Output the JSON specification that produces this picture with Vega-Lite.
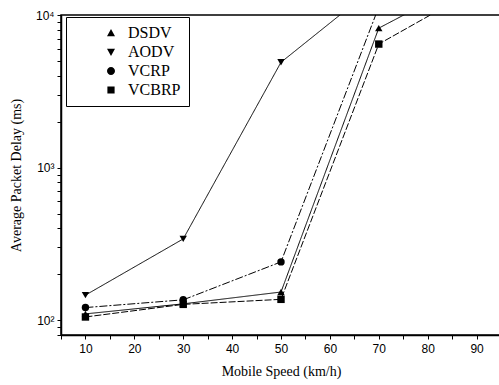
{
  "$schema": "https://vega.github.io/schema/vega-lite/v6.json",
  "width": 440,
  "height": 320,
  "autosize": {"type": "none"},
  "padding": {"left": 61, "top": 15, "right": 0, "bottom": 50},
  "background": "white",
  "config": {
    "view": {"stroke": "black", "strokeWidth": 1.5},
    "axis": {"domainColor": "black", "tickColor": "black", "labelColor": "black", "titleColor": "black", "grid": false, "labelFont": "Liberation Sans", "labelFontSize": 12, "titleFont": "Liberation Serif", "titleFontSize": 14, "titleFontWeight": "normal"}
  },
  "data": {"values": [
    {"speed": 10, "delay": 110, "series": "DSDV"},
    {"speed": 30, "delay": 128, "series": "DSDV"},
    {"speed": 50, "delay": 153, "series": "DSDV"},
    {"speed": 70, "delay": 8200, "series": "DSDV"},
    {"speed": 90, "delay": 17800, "series": "DSDV"},
    {"speed": 10, "delay": 146, "series": "AODV"},
    {"speed": 30, "delay": 341, "series": "AODV"},
    {"speed": 50, "delay": 4900, "series": "AODV"},
    {"speed": 70, "delay": 16000, "series": "AODV"},
    {"speed": 10, "delay": 121, "series": "VCRP"},
    {"speed": 30, "delay": 136, "series": "VCRP"},
    {"speed": 50, "delay": 241, "series": "VCRP"},
    {"speed": 70, "delay": 11300, "series": "VCRP"},
    {"speed": 10, "delay": 105, "series": "VCBRP"},
    {"speed": 30, "delay": 127, "series": "VCBRP"},
    {"speed": 50, "delay": 137, "series": "VCBRP"},
    {"speed": 70, "delay": 6450, "series": "VCBRP"},
    {"speed": 90, "delay": 14800, "series": "VCBRP"}
  ]},
  "encoding": {
    "x": {"field": "speed", "type": "quantitative",
      "scale": {"domain": [5, 95], "nice": false, "zero": false},
      "axis": {"title": "Mobile Speed (km/h)", "values": [5,10,15,20,25,30,35,40,45,50,55,60,65,70,75,80,85,90,95],
        "labelExpr": "datum.value % 10 == 0 ? datum.label : ''", "tickSize": 4, "labelPadding": 4, "titlePadding": 10, "domainWidth": 1.5}},
    "y": {"field": "delay", "type": "quantitative",
      "scale": {"type": "log", "domain": [80, 10000], "nice": false},
      "axis": {"title": "Average Packet Delay (ms)", "values": [80,90,100,200,300,400,500,600,700,800,900,1000,2000,3000,4000,5000,6000,7000,8000,9000,10000],
        "labelExpr": "datum.value == 100 ? '10²' : datum.value == 1000 ? '10³' : datum.value == 10000 ? '10⁴' : ''", "tickSize": 4, "labelPadding": 3, "titlePadding": 12, "domainWidth": 1.5}}
  },
  "layer": [
    {
      "mark": {"type": "line", "color": "black", "strokeWidth": 1, "clip": true},
      "encoding": {
        "detail": {"field": "series"},
        "strokeDash": {"field": "series", "type": "nominal",
          "scale": {"domain": ["AODV", "DSDV", "VCBRP", "VCRP"], "range": [[1,0],[1,0],[7,2],[8,2,2,2]]},
          "legend": null}
      }
    },
    {
      "mark": {"type": "point", "filled": true, "color": "black", "size": 55, "opacity": 1, "clip": true},
      "encoding": {
        "shape": {"field": "series", "type": "nominal",
          "scale": {"domain": ["AODV", "DSDV", "VCBRP", "VCRP"], "range": ["triangle-down", "triangle-up", "square", "circle"]},
          "legend": null}
      }
    },
    {
      "transform": [{"filter": "datum.speed < 0"}],
      "mark": {"type": "point", "filled": false, "fill": "black", "stroke": "black", "fillOpacity": 1, "strokeOpacity": 1, "size": 64, "opacity": 1, "clip": true, "strokeWidth": 1},
      "encoding": {
        "shape": {"field": "series", "type": "nominal",
          "scale": {"domain": ["DSDV", "AODV", "VCRP", "VCBRP"],
            "range": [
              "M-5,0L5,0M0,-1L1,0.8L-1,0.8Z",
              "M-5,0L5,0M0,1L1,-0.8L-1,-0.8Z",
              "M-5,0L-4.4,0M-3.9,0L-3.7,0M-3.2,0L5,0M1,0A1,1 0 1,1 -1,0A1,1 0 1,1 1,0Z",
              "M-5,0L-4,0M-3.5,0L-2.5,0M-2,0L5,0M-0.9,-0.9L0.9,-0.9L0.9,0.9L-0.9,0.9Z"
            ]},
          "legend": {"title": null, "orient": "none", "legendX": 5, "legendY": 2, "strokeColor": "black", "padding": 8,
            "labelFont": "Liberation Serif", "labelFontSize": 16, "labelColor": "black",
            "symbolFillColor": "black", "symbolStrokeColor": "black", "symbolStrokeWidth": 1,
            "symbolSize": 64, "rowPadding": 3, "labelOffset": 9, "symbolOffset": 29}}
      }
    }
  ],
  "resolve": {"scale": {"shape": "independent"}, "legend": {"shape": "independent"}}
}
